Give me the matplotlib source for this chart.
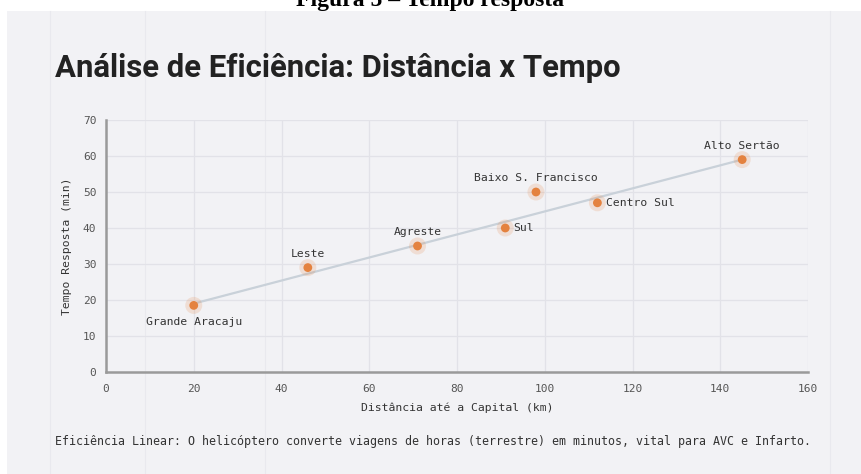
import matplotlib
matplotlib.use('Agg')
import matplotlib.pyplot as plt
from matplotlib.patches import Rectangle

# dados
regioes = ['Grande Aracaju', 'Leste', 'Agreste', 'Sul', 'Baixo S. Francisco', 'Centro Sul', 'Alto Sertão']
distancia = [20, 46, 71, 91, 98, 112, 145]
tempo = [18.5, 29, 35, 40, 50, 47, 59]
# posicao do rotulo de cada ponto
posicao = ['below', 'above', 'above', 'right', 'above', 'right', 'above']
tendencia_x = [20, 145]
tendencia_y = [19, 59]
xticks = [0, 20, 40, 60, 80, 100, 120, 140, 160]
yticks = [0, 10, 20, 30, 40, 50, 60, 70]

mono = 'DejaVu Sans Mono'
laranja = '#e4823f'
texto = '#333333'

fig = plt.figure(figsize=(8.61, 4.74), dpi=100)
fig.patch.set_facecolor('white')

# fundo cinza da imagem recortada
W, H = 861, 474
fig.patches.append(Rectangle((7 / W, 0), 1 - 7 / W, 1 - 11 / H, transform=fig.transFigure,
                             facecolor='#f2f2f5', edgecolor='none', zorder=-2))
for xp in [50, 145, 265, 830]:
    fig.add_artist(plt.Line2D([xp / W, xp / W], [0, 1 - 11 / H], transform=fig.transFigure,
                              color='#e9e9ee', lw=0.8, zorder=-1))

fig.text(0.5, 1 - 6 / H, 'Figura 5 – Tempo resposta', family='Liberation Serif',
         fontweight='bold', fontsize=17, ha='center', va='baseline', color='black')

fig.text(55 / W, 1 - 77 / H, 'Análise de Eficiência: Distância x Tempo', family='Roboto',
         fontweight='bold', fontsize=22.4, ha='left', va='baseline', color='#222222')

ax = fig.add_axes([106 / W, 1 - 372 / H, (808 - 106) / W, (372 - 120) / H])
ax.set_facecolor('none')
ax.set_zorder(2)

ax.plot(tendencia_x, tendencia_y, color='#c9d1d9', lw=1.6, zorder=2)
ax.scatter(distancia, tempo, s=150, color=laranja, alpha=0.18, edgecolors='none', zorder=3)
ax.scatter(distancia, tempo, s=40, color=laranja, edgecolors='none', zorder=4)

for nome, x, y, pos in zip(regioes, distancia, tempo, posicao):
    if pos == 'above':
        ax.annotate(nome, (x, y), xytext=(0, 10), textcoords='offset points',
                    ha='center', va='center', family=mono, fontsize=8.2, color=texto, zorder=5)
    elif pos == 'below':
        ax.annotate(nome, (x, y), xytext=(0, -12), textcoords='offset points',
                    ha='center', va='center', family=mono, fontsize=8.2, color=texto, zorder=5)
    else:
        ax.annotate(nome, (x, y), xytext=(6, 0), textcoords='offset points',
                    ha='left', va='center', family=mono, fontsize=8.2, color=texto, zorder=5)

ax.set_xlim(0, 160)
ax.set_ylim(0, 70)
ax.set_xticks(xticks)
ax.set_yticks(yticks)
ax.tick_params(axis='x', length=0, labelsize=8, labelcolor='#555555', pad=9)
ax.tick_params(axis='y', length=0, labelsize=8, labelcolor='#555555', pad=7)
for lab in ax.get_xticklabels() + ax.get_yticklabels():
    lab.set_family(mono)
ax.grid(True, color='#e2e2e8', lw=0.9, zorder=0)
ax.set_axisbelow(True)
for s in ['top', 'right']:
    ax.spines[s].set_visible(False)
for s in ['left', 'bottom']:
    ax.spines[s].set_color('#9a9a9a')
    ax.spines[s].set_linewidth(1.8)

ax.set_xlabel('Distância até a Capital (km)', family=mono, fontsize=8.2, color=texto, labelpad=6)
ax.set_ylabel('Tempo Resposta (min)', family=mono, fontsize=8.2, color=texto, labelpad=8)

fig.text(55 / W, 1 - 442 / H,
         'Eficiência Linear: O helicóptero converte viagens de horas (terrestre) em minutos, vital para AVC e Infarto.',
         family=mono, fontsize=8.4, ha='left', va='center', color=texto)

fig.savefig('out.png', dpi=100)
